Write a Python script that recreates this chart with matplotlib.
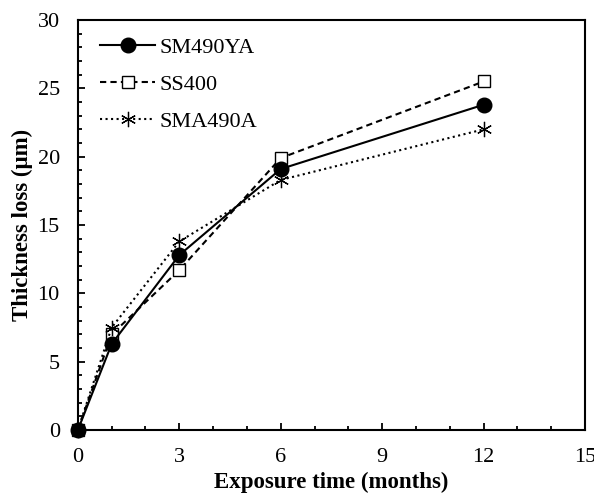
import matplotlib
matplotlib.use("Agg")
from matplotlib import pyplot as plt
from matplotlib.ticker import MultipleLocator

plt.rcParams["font.family"] = "Liberation Serif"

# data
months = [0, 1, 3, 6, 12]
sm490ya = [0, 6.3, 12.8, 19.1, 23.8]
ss400 = [0, 7.0, 11.7, 19.9, 25.5]
sma490a = [0, 7.5, 13.8, 18.3, 22.0]

fig = plt.figure(figsize=(5.94, 4.99), dpi=100)
ax = fig.add_axes([0.131, 0.138, 0.854, 0.822])

ax.plot(months, sm490ya, "-", color="black", lw=1.5, marker="o", ms=10.5,
        clip_on=False, zorder=4, label="SM490YA")
ax.plot(months, ss400, color="black", lw=1.5, ls=(0, (3, 2)), marker="s",
        ms=9, mfc="white", mec="black", mew=1.0, clip_on=False, zorder=3,
        label="SS400")
ax.plot(months, sma490a, ":", color="black", lw=1.5, marker=(6, 2, 0), ms=11,
        mew=0.9, clip_on=False, zorder=3, label="SMA490A")

ax.set_xlim(0, 15)
ax.set_ylim(0, 30)
ax.xaxis.set_major_locator(MultipleLocator(3))
ax.xaxis.set_minor_locator(MultipleLocator(1))
ax.yaxis.set_major_locator(MultipleLocator(5))
ax.yaxis.set_minor_locator(MultipleLocator(1))
ax.tick_params(which="both", direction="in", labelsize=16, width=1.3)
ax.tick_params(which="major", length=5, pad=13)
ax.tick_params(which="minor", length=3)
for s in ax.spines.values():
    s.set_linewidth(1.5)

ax.set_xlabel("Exposure time (months)", fontsize=16.5, fontweight="bold",
              labelpad=3.5)
ax.set_ylabel("Thickness loss (μm)", fontsize=16.5, fontweight="bold",
              labelpad=3)

ax.legend(loc="upper left", bbox_to_anchor=(0.026, 0.98), frameon=False,
          fontsize=16, handlelength=2.5, labelspacing=0.75, borderaxespad=0,
          handletextpad=0.2)

fig.savefig("out.png", dpi=100)
